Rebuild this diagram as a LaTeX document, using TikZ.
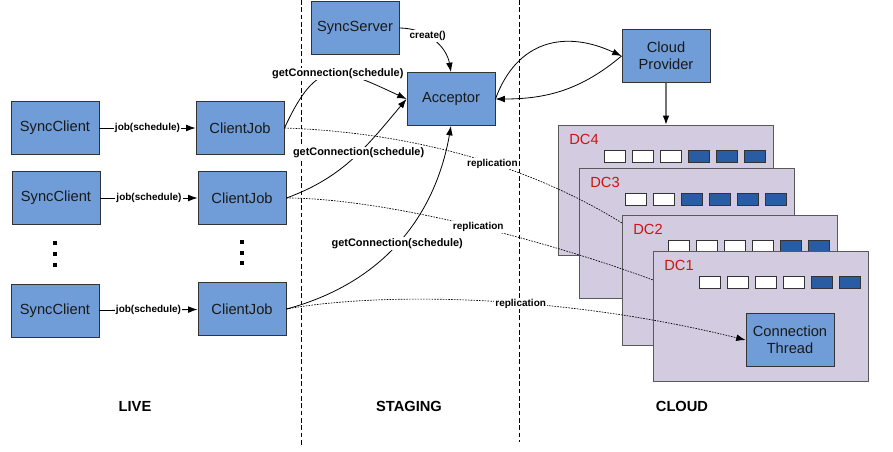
\documentclass[tikz,border=0pt]{standalone}
\usepackage{fontspec}
\setmainfont{Liberation Sans}
\usetikzlibrary{arrows.meta}
\definecolor{boxblue}{RGB}{112,157,215}
\definecolor{slotblue}{RGB}{40,93,165}
\definecolor{dcfill}{RGB}{211,203,224}
\definecolor{dcred}{RGB}{204,20,20}
\tikzset{
  box/.style={draw=black!80, line width=0.7pt, fill=boxblue, minimum width=66pt, minimum height=39.75pt, align=center, font=\fontsize{11}{12.5}\selectfont, text=black!90, inner sep=1pt},
  lbl/.style={fill=white, inner sep=0.8pt, font=\bfseries\fontsize{7.5}{8}\selectfont},
  biglbl/.style={lbl, font=\bfseries\fontsize{8.2}{9}\selectfont},
  dc/.style={draw=black!65, line width=0.8pt, fill=dcfill, minimum width=161.25pt, minimum height=97.5pt, anchor=north west, inner sep=0pt},
  dclbl/.style={text=dcred, font=\fontsize{11}{12}\selectfont, inner sep=0pt},
  slot/.style={draw=black!80, line width=0.6pt, minimum width=15.75pt, minimum height=9pt, inner sep=0pt},
  repl/.style={dash pattern=on 1.2pt off 0.9pt, line width=0.5pt},
  zone/.style={font=\bfseries\fontsize{11}{12}\selectfont},
  sep/.style={dash pattern=on 3.5pt off 2pt, line width=0.6pt}
}
\begin{document}
\begin{tikzpicture}[x=0.75pt, y=-0.75pt, >={Latex[length=7pt,width=5pt]}, line width=0.6pt]
  \useasboundingbox (0,0) rectangle (893,451);
  % zone separators
  \draw[sep] (301,0) -- (301,447);
  \draw[sep] (519,0) -- (519,442);

  % live
  \node[box] (sc1) at (55,128) {SyncClient};
  \node[box] (cj1) at (240,128) {ClientJob};
  \node[box] (sc2) at (56,198) {SyncClient};
  \node[box] (cj2) at (242,198) {ClientJob};
  \node[box] (sc3) at (55,311) {SyncClient};
  \node[box] (cj3) at (242,309) {ClientJob};
  \node[zone] (live) at (135,406) {LIVE};
  \foreach \y in {243,254,265} \fill (53,\y-2) rectangle +(4,4);
  \foreach \y in {242,253,263} \fill (240,\y-2) rectangle +(4,4);
  \draw[->] (sc1) -- node[lbl] {job(schedule)} (cj1);
  \draw[->] (sc2) -- node[lbl] {job(schedule)} (cj2);
  \draw[->] (sc3) -- node[lbl] {job(schedule)} (cj3);

  % staging
  \node[box] (server) at (355,28) {SyncServer};
  \node[box] (acceptor) at (451,99) {Acceptor};
  \node[zone] (staging) at (409,406) {STAGING};
  \draw[->] (server.east) to[out=0,in=100] node[lbl,pos=0.4] {create()} (acceptor.north);
  \draw[->] (cj1.east) to[out=65,in=155,looseness=1.6] node[biglbl,pos=0.56] {getConnection(schedule)} (acceptor.west);
  \draw[->] (cj2.east) to[out=20,in=230] node[biglbl,pos=0.55] {getConnection(schedule)} (acceptor.west);
  \draw[->] (cj3.east) to[out=15,in=-100] node[biglbl] {getConnection(schedule)} (acceptor.south);

  % cloud
  \node[box] (provider) at (666,56) {Cloud\\Provider};
  \draw[->] (acceptor.east) to[out=70,in=155,looseness=1.2] (provider.west);
  \draw[->] (provider.west) to[out=-140,in=0] (acceptor.east);

  \node[dc] (dc4) at (558,125) {};
  \node[dclbl] (dc4name) at (584,139.5) {DC4};
  \foreach \i/\c in {0/white,1/white,2/white,3/slotblue,4/slotblue,5/slotblue}
    \node[slot, fill=\c] (dc4slot\i) at (614.5+28*\i,156) {};
  \node[dc] (dc3) at (579,168) {};
  \node[dclbl] (dc3name) at (605,182.5) {DC3};
  \foreach \i/\c in {0/white,1/white,2/slotblue,3/slotblue,4/slotblue,5/slotblue}
    \node[slot, fill=\c] (dc3slot\i) at (635.5+28*\i,199) {};
  \node[dc] (dc2) at (622,215) {};
  \node[dclbl] (dc2name) at (648,229.5) {DC2};
  \foreach \i/\c in {0/white,1/white,2/white,3/white,4/slotblue,5/slotblue}
    \node[slot, fill=\c] (dc2slot\i) at (678.5+28*\i,246) {};
  \node[dc] (dc1) at (653,251) {};
  \node[dclbl] (dc1name) at (679,265.5) {DC1};
  \foreach \i/\c in {0/white,1/white,2/white,3/white,4/slotblue,5/slotblue}
    \node[slot, fill=\c] (dc1slot\i) at (709.5+28*\i,282) {};
  \node[box] (thread) at (790,340) {Connection\\Thread};
  \node[zone] (cloud) at (682,406) {CLOUD};
  \draw[-{Latex[length=7pt,width=5pt,color=black]}, draw=black!55, line width=1.2pt] (provider) -- (dc4);

  % replication
  \coordinate (dc2edge) at (622,223);
  \coordinate (dc1edge) at (653,280);
  \draw[repl] (cj1.east) .. controls (400,132) and (520,160) .. (dc2edge) node[lbl,pos=0.6] {replication};
  \draw[repl] (cj2.east) .. controls (380,198) and (540,238) .. (dc1edge) node[lbl,pos=0.54] {replication};
  \draw[repl,->] (cj3.east) .. controls (380,292) and (560,294) .. (thread.west) node[lbl,pos=0.58] {replication};
\end{tikzpicture}
\end{document}
